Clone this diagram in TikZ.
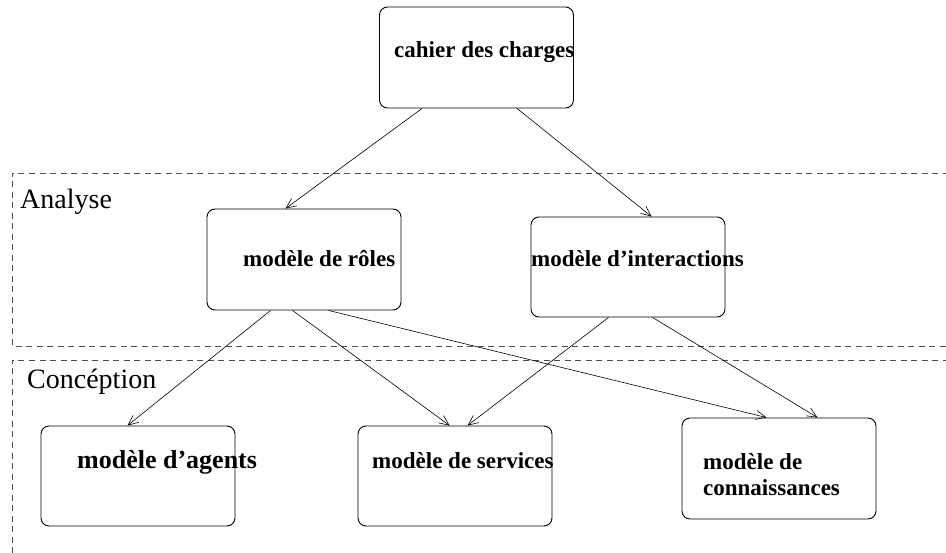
\documentclass[tikz,border=0pt]{standalone}
\usepackage{fontspec}
\setmainfont{Liberation Serif}
\usetikzlibrary{arrows.meta}
\tikzset{
  box/.style={draw, rounded corners=8pt, line width=0.9pt, inner sep=0pt, minimum width=194pt, minimum height=101pt},
  lbl/.style={anchor=base west, inner sep=0pt, font=\fontsize{23}{27}\selectfont\bfseries},
  biglbl/.style={anchor=base west, inner sep=0pt, font=\fontsize{26}{30}\selectfont\bfseries},
  zone/.style={draw, dash pattern=on 6pt off 4.5pt, line width=0.8pt, gray!60!black},
  zonelbl/.style={anchor=base west, inner sep=0pt, font=\fontsize{28}{32}\selectfont},
  arr/.style={-{Straight Barb[length=10pt,width=9pt]}, line width=0.6pt},
}
\begin{document}
\begin{tikzpicture}[x=1pt,y=-1pt]
\useasboundingbox (0,0) rectangle (946,553);
% zones
\draw[zone] (980,173) -- (12,173) -- (12,346) -- (980,346);
\draw[zone] (980,360) -- (12,360) -- (12,600);
\node[zonelbl] (analyse) at (20,209) {Analyse};
\node[zonelbl] (conception) at (27,389) {Concéption};
% boxes
\node[box] (cahier) at (476.5,57.5) {};
\node[box] (roles) at (304,259.5) {};
\node[box, minimum height=100pt] (inter) at (628,267) {};
\node[box, minimum height=100pt] (agents) at (138,476) {};
\node[box, minimum height=100pt] (services) at (455,476) {};
\node[box] (conn) at (779,468.5) {};
% texts
\node[lbl] (tcahier) at (394,58) {cahier des charges};
\node[lbl] (troles) at (243,267) {modèle de rôles};
\node[lbl] (tinter) at (531,267) {modèle d’interactions};
\node[biglbl] (tagents) at (77,468) {modèle d’agents};
\node[lbl] (tservices) at (372,468) {modèle de services};
\node[lbl] (tconn1) at (703,469) {modèle de};
\node[lbl] (tconn2) at (703,496) {connaissances};
% arrows
\draw[arr] ([xshift=43pt]cahier.south west) -- ([xshift=79pt]roles.north west);
\draw[arr] ([xshift=138pt]cahier.south west) -- ([xshift=121pt]inter.north west);
\draw[arr] ([xshift=64pt]roles.south west) -- ([xshift=87pt]agents.north west);
\draw[arr] ([xshift=86pt]roles.south west) -- ([xshift=92pt]services.north west);
\draw[arr] ([xshift=122pt]roles.south west) -- ([xshift=85pt]conn.north west);
\draw[arr] ([xshift=78pt]inter.south west) -- ([xshift=110pt]services.north west);
\draw[arr] ([xshift=122pt]inter.south west) -- ([xshift=136pt]conn.north west);
\end{tikzpicture}
\end{document}
